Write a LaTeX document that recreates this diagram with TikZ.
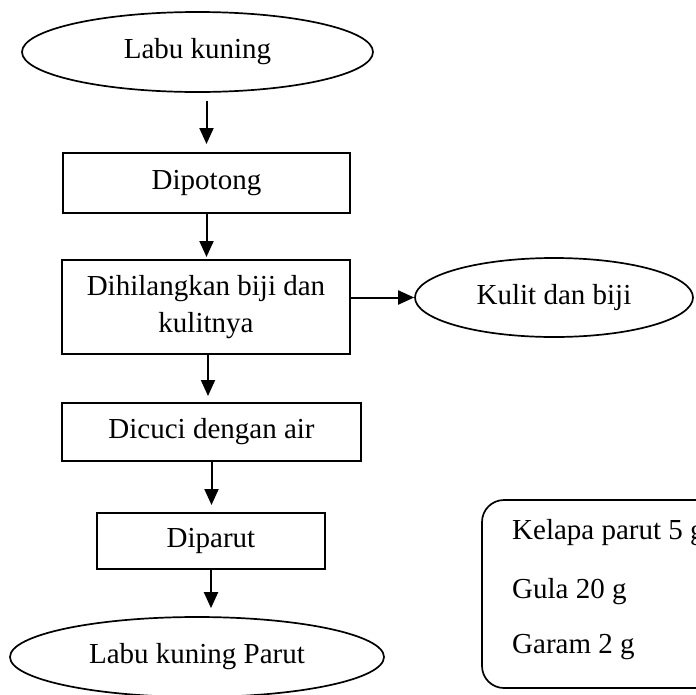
\documentclass[tikz,border=0pt]{standalone}
\usepackage{fontspec}
\setmainfont{Liberation Serif}
\usetikzlibrary{arrows.meta,shapes.geometric}
\begin{document}
\begin{tikzpicture}[x=1pt,y=-1pt,
  every node/.style={font=\fontsize{29}{37}\selectfont},
  procbox/.style={draw, line width=2pt, inner sep=0pt, align=center},
  ovalnode/.style={draw, ellipse, line width=1.7pt, inner sep=0pt},
  flowarrow/.style={-{Triangle[length=16pt,width=14pt]}, line width=2pt},
  txt/.style={anchor=west, inner sep=0pt}]
\useasboundingbox (0,0) rectangle (696,694);
\clip (0,0) rectangle (696,694);
% nodes
\node[ovalnode, minimum width=351pt, minimum height=80pt] (e1) at (197.5,52) {Labu kuning};
\node[procbox, minimum width=287pt, minimum height=60pt] (b1) at (206.5,183) {Dipotong};
\node[procbox, minimum width=288pt, minimum height=94pt] (b2) at (206,307) {Dihilangkan biji dan\\kulitnya};
\node[ovalnode, minimum width=278pt, minimum height=79pt] (e2) at (554,297.5) {Kulit dan biji};
\node[procbox, minimum width=299pt, minimum height=58pt] (b3) at (211.5,432) {Dicuci dengan air};
\node[procbox, minimum width=228pt, minimum height=56pt] (b4) at (211,541) {Diparut};
\node[ovalnode, minimum width=374pt, minimum height=80pt] (e3) at (197,657) {Labu kuning Parut};
\node[draw, line width=1.7pt, rounded corners=22pt, minimum width=258pt, minimum height=188pt] (ingr) at (611,594) {};
\node[txt] (t1) at (512,533) {Kelapa parut 5 g};
\node[txt] (t2) at (512,592) {Gula 20 g};
\node[txt] (t3) at (512,647) {Garam 2 g};
% connectors
\draw[flowarrow, shorten <=8pt, shorten >=8pt] (e1.south -| b1.north) -- (b1.north);
\draw[flowarrow, shorten >=2pt] (b1.south) -- (b1.south |- b2.north);
\draw[flowarrow] (b2.east |- e2.west) -- (e2.west);
\draw[flowarrow, shorten >=6pt] ([xshift=2pt]b2.south) -- ([xshift=2pt]b2.south |- b3.north);
\draw[flowarrow, shorten >=7pt] (b3.south) -- (b3.south |- b4.north);
\draw[flowarrow, shorten >=8pt] (b4.south) -- (b4.south |- e3.north);
\end{tikzpicture}
\end{document}
